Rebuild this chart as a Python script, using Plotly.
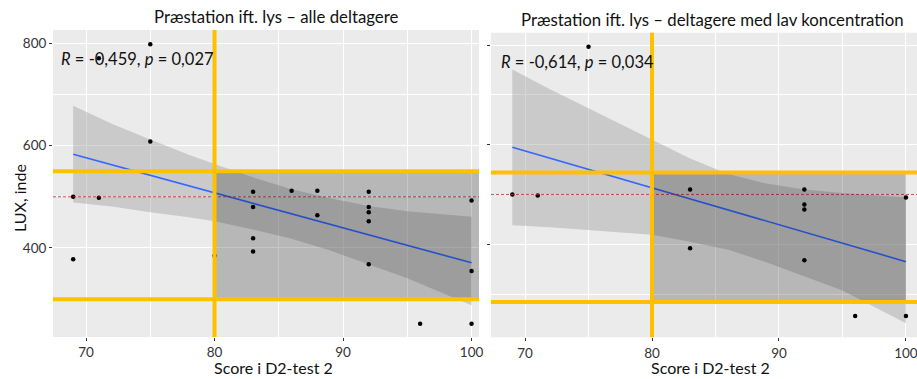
import plotly.graph_objects as go

# ---------------- data ----------------
left_x = [69, 69, 71, 71, 75, 75, 80, 83, 83, 83, 83, 86, 88, 88, 92, 92, 92, 92, 92, 96, 100, 100, 100]
left_y = [500, 378, 498, 771, 798, 608, 385, 510, 480, 419, 393, 512, 512, 464, 510, 480, 470, 452, 368, 252, 493, 355, 252]

right_x = [69, 71, 75, 83, 83, 92, 92, 92, 92, 96, 100, 100]
right_y = [500, 498, 797, 510, 392, 510, 480, 470, 368, 256, 494, 256]

left_fit_x = [69, 100]
left_fit_y = [583, 371]
right_fit_x = [69, 100]
right_fit_y = [595, 365]

left_band_x = [69, 72, 75, 78, 80, 83, 86, 89, 92, 95, 100]
left_band_hi = [678, 643, 612, 582, 564, 538, 515, 497, 482, 472, 461]
left_band_lo = [489, 481, 470, 460, 452, 436, 418, 395, 368, 341, 288]

right_band_x = [69, 72, 75, 78, 80, 83, 86, 89, 92, 95, 100]
right_band_hi = [751, 711, 673, 635, 610, 572, 541, 522, 510, 503, 494]
right_band_lo = [438, 434, 429, 423, 419, 405, 389, 364, 336, 307, 241]

ref_lux = 500
# threshold lines (hand-drawn in the original: same pixel height in both panels,
# so on the right panel's own scale they sit slightly lower)
left_lux_high, left_lux_low = 550, 300
right_lux_high, right_lux_low = 544, 284
score_cut = 80
score_max = 100

titles = ["Præstation ift. lys – alle deltagere",
          "Præstation ift. lys – deltagere med lav koncentration"]
stats_text = ["<i>R</i> = -0,459, <i>p</i> = 0,027",
              "<i>R</i> = -0,614, <i>p</i> = 0,034"]
x_title = "Score i D2-test 2"
y_title = "LUX, inde"
x_ticks = [70, 80, 90, 100]
y_ticks = [400, 600, 800]

# ---------------- figure ----------------
W, H = 917, 379
FONT = "Lato"
BAND = "rgba(153,153,153,0.4)"
BLUE = "#3366FF"
GOLD = "#FFC000"

def px(p):
    return p / W

def py(p):
    return 1 - p / H

fig = go.Figure()

panels = [
    dict(xa="x", ya="y", bx=left_band_x, hi=left_band_hi, lo=left_band_lo,
         fx=left_fit_x, fy=left_fit_y, px_=left_x, py_=left_y),
    dict(xa="x2", ya="y2", bx=right_band_x, hi=right_band_hi, lo=right_band_lo,
         fx=right_fit_x, fy=right_fit_y, px_=right_x, py_=right_y),
]

for p in panels:
    fig.add_trace(go.Scatter(
        x=p["bx"] + p["bx"][::-1], y=p["hi"] + p["lo"][::-1],
        fill="toself", fillcolor=BAND, line=dict(width=0), mode="lines",
        xaxis=p["xa"], yaxis=p["ya"], showlegend=False, hoverinfo="skip"))
    fig.add_trace(go.Scatter(
        x=p["px_"], y=p["py_"], mode="markers",
        marker=dict(color="black", size=4.5),
        xaxis=p["xa"], yaxis=p["ya"], showlegend=False))
    fig.add_trace(go.Scatter(
        x=p["fx"], y=p["fy"], mode="lines", line=dict(color=BLUE, width=1.6),
        xaxis=p["xa"], yaxis=p["ya"], showlegend=False))

LEFT_XMAX = 100.58

shapes = []
cfg = [("x", "y", LEFT_XMAX, left_lux_high, left_lux_low),
       ("x2", "y2", score_max, right_lux_high, right_lux_low)]
for xr, yr, rect_x1, hi, lo in cfg:
    shapes.append(dict(type="line", layer="above", xref=xr + " domain", yref=yr,
                       x0=0, x1=1, y0=ref_lux, y1=ref_lux,
                       line=dict(color="rgba(190,40,40,0.8)", width=1, dash="3px,2px")))
    shapes.append(dict(type="rect", layer="above", xref=xr, yref=yr,
                       x0=score_cut, x1=rect_x1, y0=lo, y1=hi,
                       fillcolor="rgba(0,0,0,0.22)", line=dict(width=0)))
for xr, yr, rect_x1, hi, lo in cfg:
    for yv in (hi, lo):
        shapes.append(dict(type="line", layer="above", xref=xr + " domain", yref=yr,
                           x0=0, x1=1, y0=yv, y1=yv,
                           line=dict(color=GOLD, width=4)))
    shapes.append(dict(type="line", layer="above", xref=xr, yref=yr + " domain",
                       x0=score_cut, x1=score_cut, y0=0, y1=1,
                       line=dict(color=GOLD, width=4)))

axis_common = dict(showline=False, zeroline=False, gridcolor="white", gridwidth=1.1,
                   ticks="outside", ticklen=3, tickcolor="#333333",
                   tickfont=dict(family=FONT, size=13.5, color="#333333"),
                   ticklabeloverflow="allow",
                   automargin=False, fixedrange=True)

fig.update_layout(
    width=W, height=H,
    margin=dict(l=0, r=0, t=0, b=0),
    paper_bgcolor="white", plot_bgcolor="#EBEBEB",
    font=dict(family=FONT, color="#111111"),
    shapes=shapes,
    xaxis=dict(domain=[px(53), px(479)], range=[67.43, LEFT_XMAX], anchor="y",
               tickvals=x_ticks,
               minor=dict(dtick=5, tick0=70, showgrid=True, gridcolor="white", gridwidth=0.5, ticks=""),
               **axis_common),
    yaxis=dict(domain=[py(337), py(30)], range=[226, 826], anchor="x",
               tickvals=y_ticks,
               minor=dict(dtick=100, tick0=300, showgrid=True, gridcolor="white", gridwidth=0.5, ticks=""),
               **axis_common),
    xaxis2=dict(domain=[px(491), 1.0], range=[67.32, 100.87], anchor="y2",
                tickvals=x_ticks,
                minor=dict(dtick=5, tick0=70, showgrid=True, gridcolor="white", gridwidth=0.5, ticks=""),
                **axis_common),
    yaxis2=dict(domain=[py(337.3), py(32.7)], range=[213, 825], anchor="x2",
                tickvals=y_ticks, showticklabels=False,
                minor=dict(dtick=100, tick0=300, showgrid=True, gridcolor="white", gridwidth=0.5, ticks=""),
                **axis_common),
)

ann = [
    dict(text=titles[0], x=px(276), y=py(17), size=16.8),
    dict(text=titles[1], x=px(712), y=py(20), size=16.8),
    dict(text=x_title, x=px(273), y=py(367), size=16),
    dict(text=x_title, x=px(710), y=py(367), size=16),
]
for a in ann:
    fig.add_annotation(text=a["text"], x=a["x"], y=a["y"], xref="paper", yref="paper",
                       xanchor="center", yanchor="middle", showarrow=False,
                       font=dict(family=FONT, size=a["size"], color="#111111"))
fig.add_annotation(text=y_title, x=px(19), y=py(198), xref="paper", yref="paper",
                   xanchor="center", yanchor="middle", showarrow=False, textangle=-90,
                   font=dict(family=FONT, size=16, color="#111111"))
fig.add_annotation(text=stats_text[0], x=px(59), y=py(59), xref="paper", yref="paper",
                   xanchor="left", yanchor="middle", showarrow=False,
                   font=dict(family=FONT, size=16.5, color="#111111"))
fig.add_annotation(text=stats_text[1], x=px(499), y=py(62), xref="paper", yref="paper",
                   xanchor="left", yanchor="middle", showarrow=False,
                   font=dict(family=FONT, size=16.5, color="#111111"))

fig.write_html("out.html",
               config={"displayModeBar": False},
               post_script="document.body.style.margin='0';document.body.style.overflow='hidden';")
